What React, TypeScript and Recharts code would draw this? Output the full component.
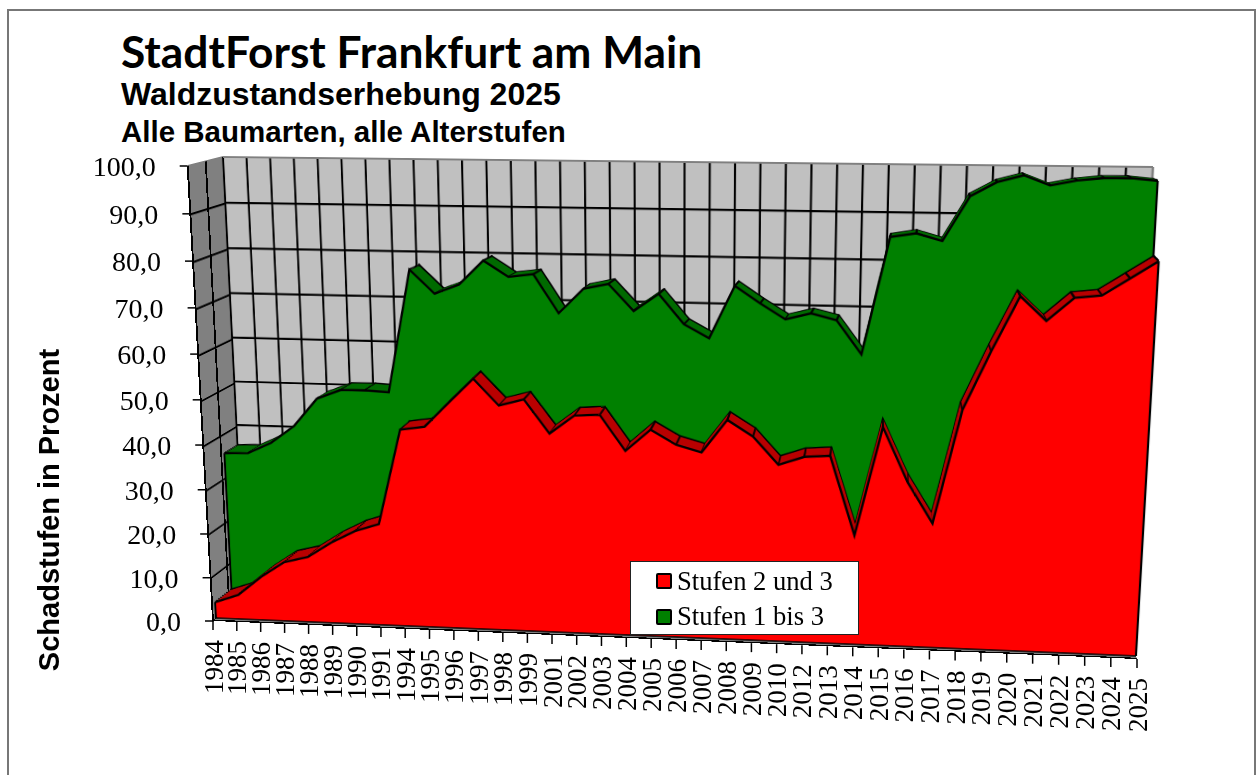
import React from 'react';
import { AreaChart, Area, XAxis, YAxis, CartesianGrid, ReferenceLine, Legend } from 'recharts';

const years = ['1984','1985','1986','1987','1988','1989','1990','1991','1994','1995','1996','1997','1998','1999','2001','2002','2003','2004','2005','2006','2007','2008','2009','2010','2012','2013','2014','2015','2016','2017','2018','2019','2020','2021','2022','2023','2024','2025'];
const stufen2und3 = [3.7,5.6,10,13.6,15,18.5,21.3,23.1,44.4,45.2,50.7,56,50.3,51.8,44.5,48.6,48.9,41.2,46,42.9,41.4,48.6,45.2,39.2,41.1,41.5,24.3,48,36.3,27.5,52.2,64.7,76.2,71.2,76.1,76.7,80.3,83.9];
const stufen1bis3 = [35.3,35.5,38,42,48.3,50.4,50.5,50.2,77.3,72.2,74.3,79.6,76.2,76.9,68.6,74,75.2,69.5,73.3,66.9,64,75.4,71.8,68.5,69.9,68.6,61.4,86.4,87.3,85.8,95.2,98.2,99.7,97.7,98.8,99.4,99.5,99];
const valueTicks = [0,10,20,30,40,50,60,70,80,90,100];
const wallRows = [0,10,20,30,40,50,60,70,80,90];
const sideCells = ['front','middle','back'];
const legendItems = [
  { name: 'Stufen 2 und 3', color: '#FF0000' },
  { name: 'Stufen 1 bis 3', color: '#008000' },
];

const data = years.map((year, i) => ({ year, red: stufen2und3[i], green: stufen1bis3[i] }));

type Pt = [number, number];
type Quad = [Pt, Pt, Pt, Pt]; // top-left, top-right, bottom-right, bottom-left

// the 3D look: every plane is a flat chart warped onto one of these quads
const axisQuad: Quad = [[187.7,166],[1166,182],[1137,659],[213,621]];
const redFront: Quad = [[190,167],[1163.4,181],[1136,656],[216,618]];
const redBack: Quad = [[200.5,163],[1158.4,177],[1131,643],[232,605]];
const greenFront: Quad = [[209,160],[1158,176],[1131.5,642],[232.3,605]];
const greenBack: Quad = [[222,157],[1153.5,174.5],[1128.5,631],[246,594]];
const backWall: Quad = [[223,157],[1153,167],[1128,634],[245,595]];
const leftWall: Quad = [[187.7,166],[223,157],[245,595],[213,621]];
const floor: Quad = [[245,595],[1128,634],[1137,659],[213,621]];

const PW = 1000;
const PH = 500;
const PM = 4;
const ribbonSteps = [1, 0.875, 0.75, 0.625, 0.5, 0.375, 0.25, 0.125];

function unitToQuad(q: Quad) {
  const [[x0,y0],[x1,y1],[x2,y2],[x3,y3]] = q;
  const dx1 = x1-x2, dx2 = x3-x2, sx = x0-x1+x2-x3;
  const dy1 = y1-y2, dy2 = y3-y2, sy = y0-y1+y2-y3;
  const den = dx1*dy2-dx2*dy1;
  const g = (sx*dy2-dx2*sy)/den;
  const h = (dx1*sy-sx*dy1)/den;
  return { a:x1-x0+g*x1, b:x3-x0+h*x3, c:x0, d:y1-y0+g*y1, e:y3-y0+h*y3, f:y0, g, h };
}

function project(q: Quad, u: number, w: number): Pt {
  const m = unitToQuad(q);
  const z = m.g*u+m.h*w+1;
  return [(m.a*u+m.b*w+m.c)/z, (m.d*u+m.e*w+m.f)/z];
}

function cssMatrix(q: Quad) {
  const m = unitToQuad(q);
  const sx = 1/(PW-2*PM), sy = 1/(PH-2*PM);
  const A = m.a*sx, B = m.b*sy, C = m.c-m.a*PM*sx-m.b*PM*sy;
  const D = m.d*sx, E = m.e*sy, F = m.f-m.d*PM*sx-m.e*PM*sy;
  const G = m.g*sx, H = m.h*sy, I = 1-m.g*PM*sx-m.h*PM*sy;
  return `matrix3d(${A},${D},0,${G},${B},${E},0,${H},0,0,1,0,${C},${F},0,${I})`;
}

function mix(a: Quad, b: Quad, t: number): Quad {
  return a.map((p, i) => [p[0]+(b[i][0]-p[0])*t, p[1]+(b[i][1]-p[1])*t]) as Quad;
}

function Plane({ quad, children }: { quad: Quad; children: React.ReactNode }) {
  return (
    <div style={{ position:'absolute', left:0, top:0, width:PW, height:PH, transformOrigin:'0 0', transform:cssMatrix(quad) }}>
      {children}
    </div>
  );
}

function SeriesFace({ quad, dataKey, values, fill, stroke, strokeWidth, dots, edges }: any) {
  const last = years.length-1;
  return (
    <Plane quad={quad}>
      <AreaChart width={PW} height={PH} data={data} margin={{ top:PM, right:PM, bottom:PM, left:PM }}>
        <XAxis dataKey="year" type="category" scale="point" hide interval={0} />
        <YAxis domain={[0,100]} hide />
        <Area
          type="linear"
          dataKey={dataKey}
          fill={fill}
          fillOpacity={1}
          stroke={stroke}
          strokeWidth={strokeWidth}
          dot={dots ? { r:1.1, fill:'#000', stroke:'none' } : false}
          activeDot={false}
          isAnimationActive={false}
        />
        {edges && <ReferenceLine segment={[{ x:years[0], y:0 },{ x:years[0], y:values[0] }]} stroke="#000" strokeWidth={2.2} />}
        {edges && <ReferenceLine segment={[{ x:years[last], y:0 },{ x:years[last], y:values[last] }]} stroke="#000" strokeWidth={2.2} />}
        {edges && <ReferenceLine segment={[{ x:years[0], y:0 },{ x:years[last], y:0 }]} stroke="#000" strokeWidth={1.6} />}
      </AreaChart>
    </Plane>
  );
}

function Slab({ front, back, dataKey, values, face, side }: any) {
  return (
    <>
      {ribbonSteps.map((t) => (
        <SeriesFace
          key={t}
          quad={mix(front, back, t)}
          dataKey={dataKey}
          values={values}
          fill={side}
          stroke={t === 1 ? '#000' : side}
          strokeWidth={t === 1 ? 2.2 : 1}
          dots
          edges={false}
        />
      ))}
      <SeriesFace quad={front} dataKey={dataKey} values={values} fill={face} stroke="#000" strokeWidth={2.4} dots={false} edges />
    </>
  );
}

function BackWall() {
  const rows = years.map((c) => ({ c, v:0 }));
  return (
    <Plane quad={backWall}>
      <AreaChart width={PW} height={PH} data={rows} margin={{ top:PM, right:PM, bottom:PM, left:PM }}>
        <CartesianGrid fill="#C0C0C0" fillOpacity={1} stroke="#000" strokeWidth={2.2} />
        <XAxis dataKey="c" type="category" scale="point" hide interval={0} />
        <YAxis domain={[0,100]} ticks={wallRows} hide />
        <Area dataKey="v" fill="none" stroke="none" isAnimationActive={false} />
        <ReferenceLine y={100} stroke="#808080" strokeWidth={2} />
        <ReferenceLine x={years[years.length-1]} stroke="#808080" strokeWidth={2} />
      </AreaChart>
    </Plane>
  );
}

// the side wall is only 35px wide on screen, so its upright lines need a wide stroke before warping
function SideWall() {
  const rows = sideCells.map((c) => ({ c, v:0 }));
  return (
    <Plane quad={leftWall}>
      <AreaChart width={PW} height={PH} data={rows} margin={{ top:PM, right:PM, bottom:PM, left:PM }}>
        <CartesianGrid vertical={false} fill="#808080" fillOpacity={1} stroke="#000" strokeWidth={2.2} />
        <XAxis dataKey="c" type="category" scale="point" hide interval={0} />
        <YAxis domain={[0,100]} ticks={wallRows} hide />
        <Area dataKey="v" fill="none" stroke="none" isAnimationActive={false} />
        <ReferenceLine y={100} stroke="#808080" strokeWidth={2} />
        {sideCells.map((c) => <ReferenceLine key={c} x={c} stroke="#000" strokeWidth={c === 'back' ? 28 : 50} />)}
      </AreaChart>
    </Plane>
  );
}

// overlay plot box, used to turn the tick position back into axis fractions
const OV = { left:100, top:100, w:1058, h:575 };

function ValueTick({ y, payload }: any) {
  const [px, py] = project(axisQuad, 0, (y-OV.top)/OV.h);
  return (
    <g>
      <line x1={px-8} y1={py} x2={px} y2={py} stroke="#000" strokeWidth={1.5} />
      <text x={px-32} y={py+10} textAnchor="end" fontFamily="Liberation Serif" fontSize={28} fill="#000">
        {Number(payload.value).toFixed(1).replace('.', ',')}
      </text>
    </g>
  );
}

function YearTick({ x, payload }: any) {
  const [px, py] = project(axisQuad, (x-OV.left)/OV.w, 1);
  return (
    <g>
      <line x1={px} y1={py} x2={px} y2={py+9} stroke="#000" strokeWidth={1.5} />
      <text transform={`translate(${px+9.5},${py+19}) rotate(-90)`} textAnchor="end" fontFamily="Liberation Serif" fontSize={27} fill="#000">
        {payload.value}
      </text>
    </g>
  );
}

function LegendBox() {
  return (
    <div style={{ width:229, height:74, boxSizing:'border-box', background:'#fff', border:'1px solid #222', position:'relative', fontFamily:'Liberation Serif', fontSize:26.6, color:'#000' }}>
      {legendItems.map((item, i) => (
        <div key={item.name} style={{ position:'absolute', left:25, top:1+i*35.5, height:36, display:'flex', alignItems:'center', whiteSpace:'nowrap' }}>
          <span style={{ width:16, height:16, boxSizing:'border-box', border:'2px solid #000', borderRadius:2, background:item.color, marginRight:5 }} />
          {item.name}
        </div>
      ))}
    </div>
  );
}

const titleStyle: React.CSSProperties = { position:'absolute', left:121, whiteSpace:'nowrap', color:'#000', fontWeight:700 };

export default function App() {
  return (
    <div style={{ position:'fixed', left:0, top:0, width:1258, height:775, overflow:'hidden', background:'#fff' }}>
      <style>{'.recharts-surface{overflow:visible}'}</style>
      <div style={{ position:'absolute', left:7, top:9, width:1245, height:800, border:'2px solid #777' }} />

      <div style={{ ...titleStyle, top:24, fontFamily:'Lato', fontSize:44.3 }}>StadtForst Frankfurt am Main</div>
      <div style={{ ...titleStyle, top:76, fontFamily:'Liberation Sans', fontSize:32 }}>Waldzustandserhebung 2025</div>
      <div style={{ ...titleStyle, top:115, fontFamily:'Liberation Sans', fontSize:29.5 }}>Alle Baumarten, alle Alterstufen</div>

      <SideWall />
      <Plane quad={floor}>
        <div style={{ position:'absolute', inset:PM, boxSizing:'border-box', background:'#808080', borderBottom:'24px solid #000' }} />
      </Plane>
      <BackWall />

      <Slab front={greenFront} back={greenBack} dataKey="green" values={stufen1bis3} face="#008000" side="#006A00" />
      <Slab front={redFront} back={redBack} dataKey="red" values={stufen2und3} face="#FF0000" side="#B80000" />

      <div style={{ position:'absolute', left:0, top:0 }}>
        <AreaChart width={1258} height={775} data={data} margin={{ top:OV.top, right:100, bottom:70, left:40 }}>
          <XAxis dataKey="year" type="category" scale="point" interval={0} height={30} axisLine={false} tickLine={false} tick={YearTick} />
          <YAxis domain={[0,100]} ticks={valueTicks} width={60} axisLine={false} tickLine={false} tick={ValueTick} />
          <Area dataKey="red" fill="none" stroke="none" isAnimationActive={false} />
        </AreaChart>
      </div>
      <div style={{ position:'absolute', left:0, top:0 }}>
        <AreaChart width={1258} height={775} data={data}>
          <Legend content={LegendBox} wrapperStyle={{ left:630, top:561, width:229, height:74, bottom:'auto' }} />
        </AreaChart>
      </div>

      <div style={{ position:'absolute', left:49, top:510, transform:'translate(-50%,-50%) rotate(-90deg)', whiteSpace:'nowrap', fontFamily:'Liberation Sans', fontWeight:700, fontSize:29, color:'#000' }}>
        Schadstufen in Prozent
      </div>
    </div>
  );
}
